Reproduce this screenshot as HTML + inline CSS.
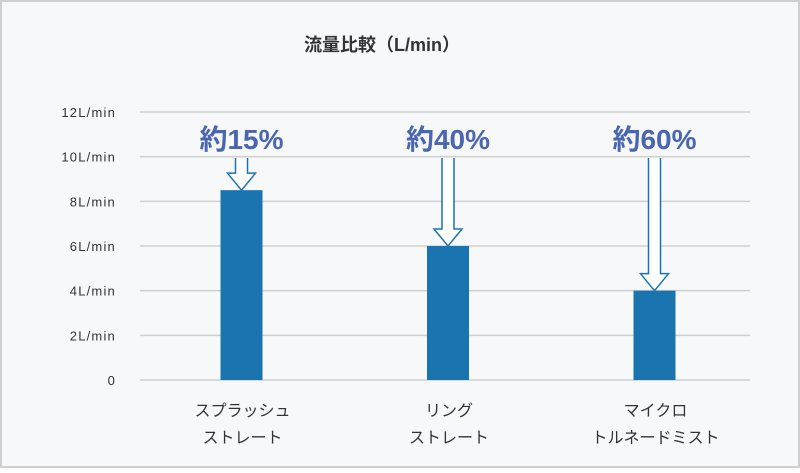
<!DOCTYPE html>
<html><head><meta charset="utf-8"><style>
html,body{margin:0;padding:0;}
body{width:800px;height:468px;overflow:hidden;font-family:"Liberation Sans","Noto Sans CJK JP",sans-serif;}
</style></head><body>
<svg id="chart" width="800" height="468" xmlns="http://www.w3.org/2000/svg">
<rect x="1" y="1" width="798" height="466" fill="#f7f8fa" stroke="#cfcfcf" stroke-width="2"/>
<text x="382" y="51" text-anchor="middle" font-size="18" font-weight="bold" fill="#333" font-family="Liberation Sans, Noto Sans CJK JP, sans-serif">流量比較（L/min）</text>
<g id="grid"></g><g id="bars"></g><g id="labels"></g>
</svg>
<script>
const categories=[["スプラッシュ","ストレート"],["リング","ストレート"],["マイクロ","トルネードミスト"]];
const values=[8.5,6,4];
const reductions=["約15%","約40%","約60%"];
const ticks=[0,2,4,6,8,10,12];
const tickLabels=["0","2L/min","4L/min","6L/min","8L/min","10L/min","12L/min"];
const NS="http://www.w3.org/2000/svg";
const svg=document.getElementById('chart');
const y=v=>380-v*(268/12);
const x=i=>241.5+i*206.5;
function mk(tag,attrs,parent){const e=document.createElementNS(NS,tag);for(const k in attrs)e.setAttribute(k,attrs[k]);parent.appendChild(e);return e;}
const grid=document.getElementById('grid');
ticks.forEach((t,i)=>{
  const l=mk('line',{x1:140,x2:750,y1:y(t),y2:y(t),stroke:'#cfcfcf','stroke-width':1.5},grid);
  
  
  const tx=mk('text',{x:116,y:y(t)+5,'text-anchor':'end','font-size':13,fill:'#333','letter-spacing':'1.2'},grid);
  tx.textContent=tickLabels[i];
  
  
});
const bars=document.getElementById('bars'),labels=document.getElementById('labels');
values.forEach((v,i)=>{
  const cx=x(i),top=y(v);
  const b=mk('rect',{x:cx-21,y:top,width:42,height:380-top,fill:'#1a74b0'},bars);
  
  
  const p=mk('text',{x:cx,y:149,'text-anchor':'middle','font-size':28,fill:'#4a66b0','font-weight':'bold'},labels);
  p.textContent=reductions[i];
  
  
  const hs=top-17;
  const d=`M${cx-6},158 L${cx-6},${hs} L${cx-14},${hs} L${cx},${top} L${cx+14},${hs} L${cx+6},${hs} L${cx+6},158`;
  const a=mk('path',{d:d,fill:'#fff',stroke:'#1a74b0','stroke-width':1.5},labels);
  
  
  categories[i].forEach((line,j)=>{
    const t=mk('text',{x:cx+1,y:416+j*27,'text-anchor':'middle','font-size':16,fill:'#333'},labels);
    t.textContent=line;
    
    
  });
});
</script>
</body></html>
